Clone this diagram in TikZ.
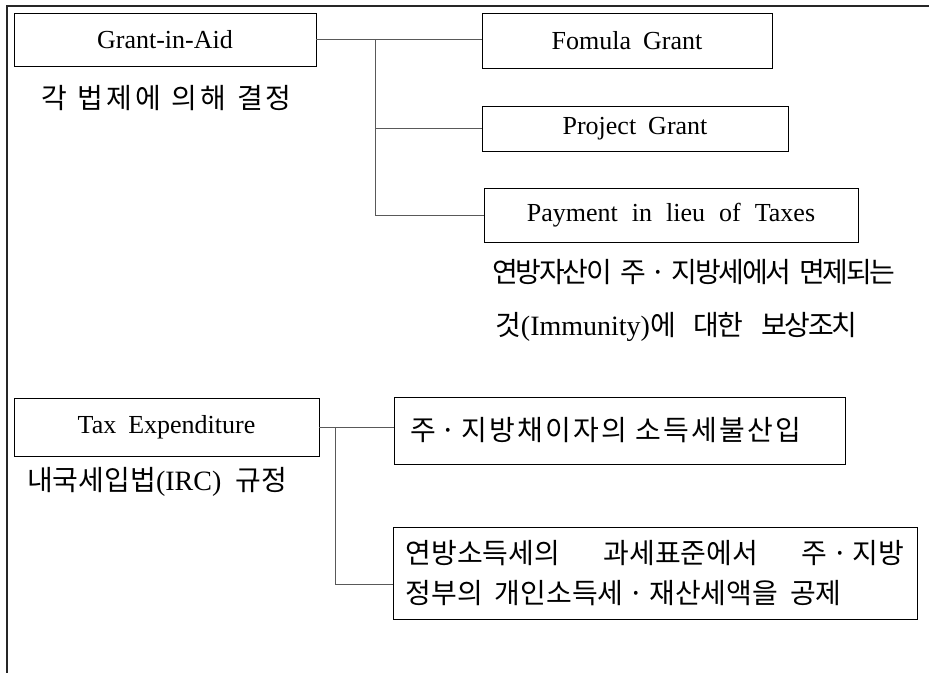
\documentclass[tikz,border=0pt]{standalone}
\usepackage{fontspec}
\setmainfont{Liberation Serif}
\newfontfamily\kr{Noto Sans CJK KR}
\newfontfamily\krw[LetterSpace=10]{Noto Sans CJK KR}
\newfontfamily\krm[LetterSpace=8]{Noto Sans CJK KR}
\newfontfamily\krn[LetterSpace=-8]{Noto Sans CJK KR}
\newcommand\md{\kern5pt{\kr ·}\kern5pt}
\begin{document}
\begin{tikzpicture}[x=1pt,y=-1pt,
  box/.style={draw=black, line width=0.9pt, inner sep=0pt, font=\fontsize{26}{30}\selectfont},
  note/.style={inner sep=0pt, font=\fontsize{28}{30}\selectfont},
  conn/.style={draw=black!65, line width=0.9pt},
  frameline/.style={draw=black!85, line width=1.4pt}]
\useasboundingbox (0,0) rectangle (929,673);
\draw[frameline] (929,6) -- (7,6) -- (7,673);
% Grant-in-Aid group
\node[box, minimum width=302pt, minimum height=53pt] (gia) at (165,39.5) {Grant-in-Aid};
\node[note, anchor=west] (giak) at (41,98) {\krw\spaceskip=11pt 각 법제에 의해 결정};
\node[box, minimum width=290pt, minimum height=55pt] (fom) at (627,40.5) {\spaceskip=12pt Fomula Grant};
\node[box, minimum width=306pt, minimum height=45pt] (proj) at (635,128.5) {\spaceskip=12pt Project Grant};
\node[box, minimum width=374pt, minimum height=54pt] (pay) at (671,215) {\spaceskip=14pt Payment in lieu of Taxes};
\node[note, anchor=west, align=left, font=\fontsize{28}{53}\selectfont] (payk) at (492,300.5)
  {{\krn\spaceskip=8pt 연방자산이 주\md 지방세에서 면제되는}\\\hspace*{3pt}{\krn 것}(Immunity){\krn 에}\hspace{18pt}{\krn 대한}\hspace{18pt}{\krn 보상조치}};
% Tax Expenditure group
\node[box, minimum width=305pt, minimum height=58pt] (te) at (166.5,427) {\spaceskip=12pt Tax Expenditure};
\node[note, anchor=west] (tek) at (27,482) {{\kr 내국세입법}(IRC)\hspace{14pt}{\kr 규정}};
\node[box, text width=419pt, inner xsep=16pt, minimum height=67pt, align=left, font=\fontsize{28}{30}\selectfont] (tx1) at (619.5,430.5)
  {\krm\spaceskip=8pt 주\md 지방채이자의 소득세불산입};
\node[box, text width=499pt, inner xsep=12.5pt, minimum height=92pt, align=left, font=\fontsize{28}{40}\selectfont] (tx2) at (655,573)
  {\kr\spaceskip=12pt 연방소득세의\hfill 과세표준에서\hfill 주\md 지방\\정부의 개인소득세\md 재산세액을 공제};
% connectors
\coordinate (t1) at ([xshift=59pt]gia.east);
\draw[conn] (gia.east) -- (gia.east -| fom.west);
\draw[conn] (t1) |- (pay.west);
\draw[conn] (t1 |- proj.west) -- (proj.west);
\coordinate (t2) at ([xshift=16pt]te.east);
\coordinate (tx2in) at ([yshift=-11pt]tx2.west);
\draw[conn] (te.east) -- (te.east -| tx1.west);
\draw[conn] (t2) |- (tx2in);
\end{tikzpicture}
\end{document}
